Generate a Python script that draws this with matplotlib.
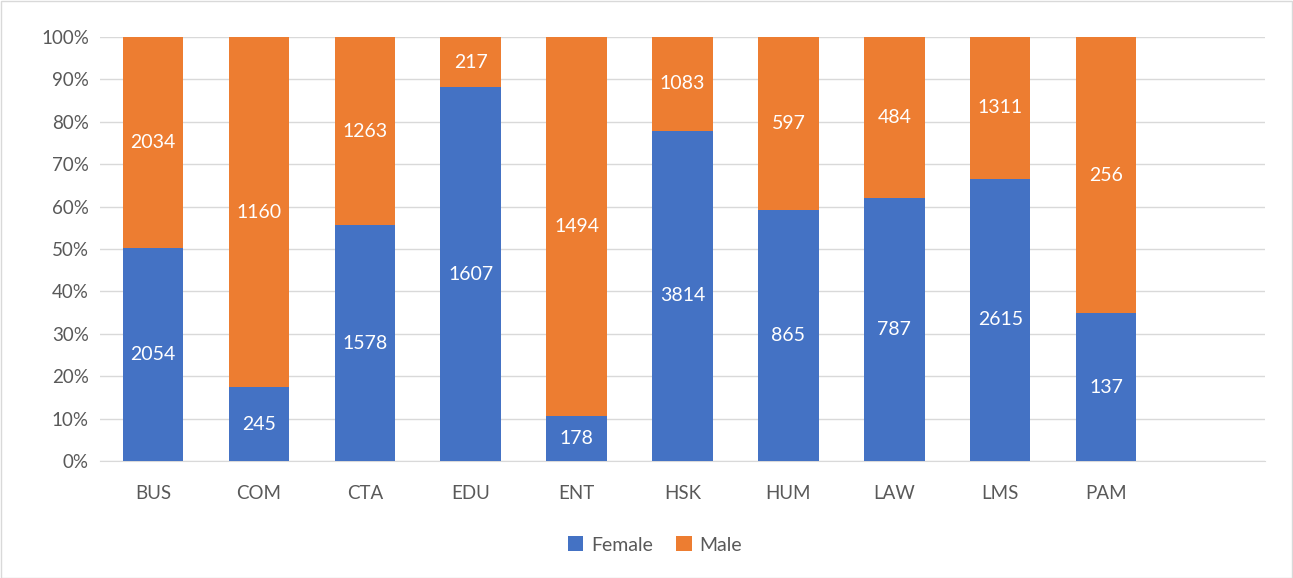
import matplotlib
matplotlib.use("Agg")
import matplotlib.pyplot as plt
from matplotlib.patches import Rectangle
from matplotlib.ticker import FuncFormatter

categories = ["BUS", "COM", "CTA", "EDU", "ENT", "HSK", "HUM", "LAW", "LMS", "PAM"]
female = [2054, 245, 1578, 1607, 178, 3814, 865, 787, 2615, 137]
male = [2034, 1160, 1263, 217, 1494, 1083, 597, 484, 1311, 256]

blue = "#4472C4"
orange = "#ED7D31"
txt = "#595959"

plt.rcParams['font.family'] = ['Lato', 'DejaVu Sans']

fig = plt.figure(figsize=(12.93, 5.78), dpi=100)
ax = fig.add_axes([100/1293, 1-461/578, 1165/1293, (461-37)/578])

x = list(range(len(categories)))
fp = [f/(f+m)*100 for f, m in zip(female, male)]
mp = [m/(f+m)*100 for f, m in zip(female, male)]

w = 0.57
ax.bar(x, fp, width=w, color=blue, label="Female", zorder=3)
ax.bar(x, mp, width=w, bottom=fp, color=orange, label="Male", zorder=3)

for i in x:
    ax.text(i, fp[i]/2, str(female[i]), ha='center', va='center', color='white', fontsize=14, zorder=4)
    ax.text(i, fp[i] + mp[i]/2, str(male[i]), ha='center', va='center', color='white', fontsize=14, zorder=4)

ax.set_xlim(-0.5, len(categories) + 0.5)
ax.set_ylim(0, 100)
ax.set_yticks(range(0, 101, 10))
ax.yaxis.set_major_formatter(FuncFormatter(lambda v, p: f"{int(v)}%"))
ax.set_xticks(x)
ax.set_xticklabels(categories)
ax.tick_params(axis='both', length=0, colors=txt, labelsize=13.5)
ax.tick_params(axis='x', pad=17)
ax.tick_params(axis='y', pad=8)
ax.grid(axis='y', color='#D9D9D9', linewidth=1, zorder=0)
for s in ['top', 'right', 'left']:
    ax.spines[s].set_visible(False)
ax.spines['bottom'].set_color('#D9D9D9')

leg = fig.legend(loc='center', bbox_to_anchor=(655/1293, 1-545/578), ncol=2, frameon=False,
                 fontsize=14, handlelength=0.8, handleheight=0.8, handletextpad=0.4, columnspacing=1.2)
for t in leg.get_texts():
    t.set_color(txt)

fig.patches.append(Rectangle((0.5/1293, 0.5/578), 1-1.5/1293, 1-1.5/578, transform=fig.transFigure,
                             fill=False, edgecolor='#D9D9D9', linewidth=1))

fig.savefig("out.png", dpi=100)
